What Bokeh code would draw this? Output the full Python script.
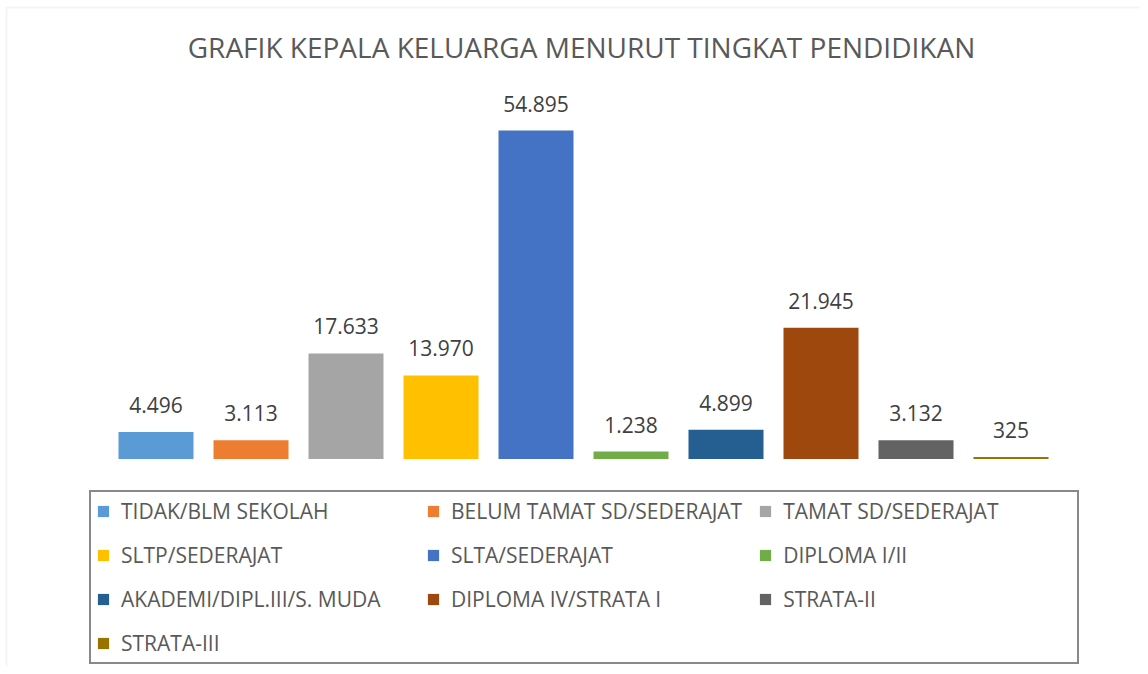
from bokeh.plotting import figure
from bokeh.models import ColumnDataSource, Range1d, Legend, LegendItem, Label, BoxAnnotation
from bokeh.core.properties import value
from bokeh.embed import file_html
from bokeh.resources import INLINE

# ---- data ----
categories = [
    "TIDAK/BLM SEKOLAH",
    "BELUM TAMAT SD/SEDERAJAT",
    "TAMAT SD/SEDERAJAT",
    "SLTP/SEDERAJAT",
    "SLTA/SEDERAJAT",
    "DIPLOMA I/II",
    "AKADEMI/DIPL.III/S. MUDA",
    "DIPLOMA IV/STRATA I",
    "STRATA-II",
    "STRATA-III",
]
values = [4496, 3113, 17633, 13970, 54895, 1238, 4899, 21945, 3132, 325]
colors = ["#5B9BD5", "#ED7D31", "#A5A5A5", "#FFC000", "#4472C4",
          "#70AD47", "#255E91", "#9E480E", "#636363", "#997300"]
title_text = "GRAFIK KEPALA KELUARGA MENURUT TINGKAT PENDIDIKAN"

labels = [f"{v:,}".replace(",", ".") for v in values]
xs = list(range(len(categories)))

# ---- layout (pixels) ----
W, H = 1140, 666
PX_X = 95.0            # pixels per category step
X0 = 155.5             # canvas x of first category centre
BASE = H - 458.5       # canvas y (from bottom) of the zero line
UPP = 54895 / 328.5    # data units per pixel vertically

xr = Range1d(-X0 / PX_X, (W - X0) / PX_X)
yr = Range1d(-BASE * UPP, (H - BASE) * UPP)

p = figure(width=W, height=H, x_range=xr, y_range=yr,
           output_backend="svg", toolbar_location=None,
           x_axis_location=None, y_axis_location=None,
           min_border=0, outline_line_color=None)
p.grid.visible = False
p.background_fill_color = "white"
p.border_fill_color = "white"

src = ColumnDataSource(dict(x=xs, top=values, color=colors, label=labels, cat=categories))

bars = p.vbar(x="x", top="top", bottom=0, width=75 / PX_X, source=src,
              fill_color="color", line_color=None)

p.text(x="x", y="top", text="label", source=src,
       text_align="center", text_baseline="alphabetic", y_offset=-27,
       text_font=value("Open Sans"), text_font_size="21px", text_color="#404040")

# chart border (left and top visible)
border = BoxAnnotation(left=xr.start + 6.0 / PX_X, right=xr.end + 2.0,
                       top=yr.end - 7.0 * UPP, bottom=yr.start - 100 * UPP,
                       fill_alpha=0, line_color="#d9d9d9", line_width=2)
p.add_layout(border)

title = Label(x=581, y=620, x_units="screen", y_units="screen",
              text=title_text, text_align="center", text_baseline="middle",
              text_font="Open Sans", text_font_size="28px", text_color="#595959")
p.add_layout(title)

items = [LegendItem(label=c, renderers=[bars], index=i) for i, c in enumerate(categories)]
legend = Legend(items=items, location=(89, 2), orientation="horizontal", ncols=3,
                glyph_width=14, glyph_height=14, label_standoff=11,
                label_width=289, label_height=26, spacing=16, padding=5, margin=0,
                label_text_font="Open Sans", label_text_font_size="21px",
                label_text_color="#595959",
                border_line_color="#898989", border_line_width=2,
                border_line_alpha=1.0,
                background_fill_alpha=1)
p.add_layout(legend, "center")

open("out.html", "w").write(file_html(p, INLINE))
